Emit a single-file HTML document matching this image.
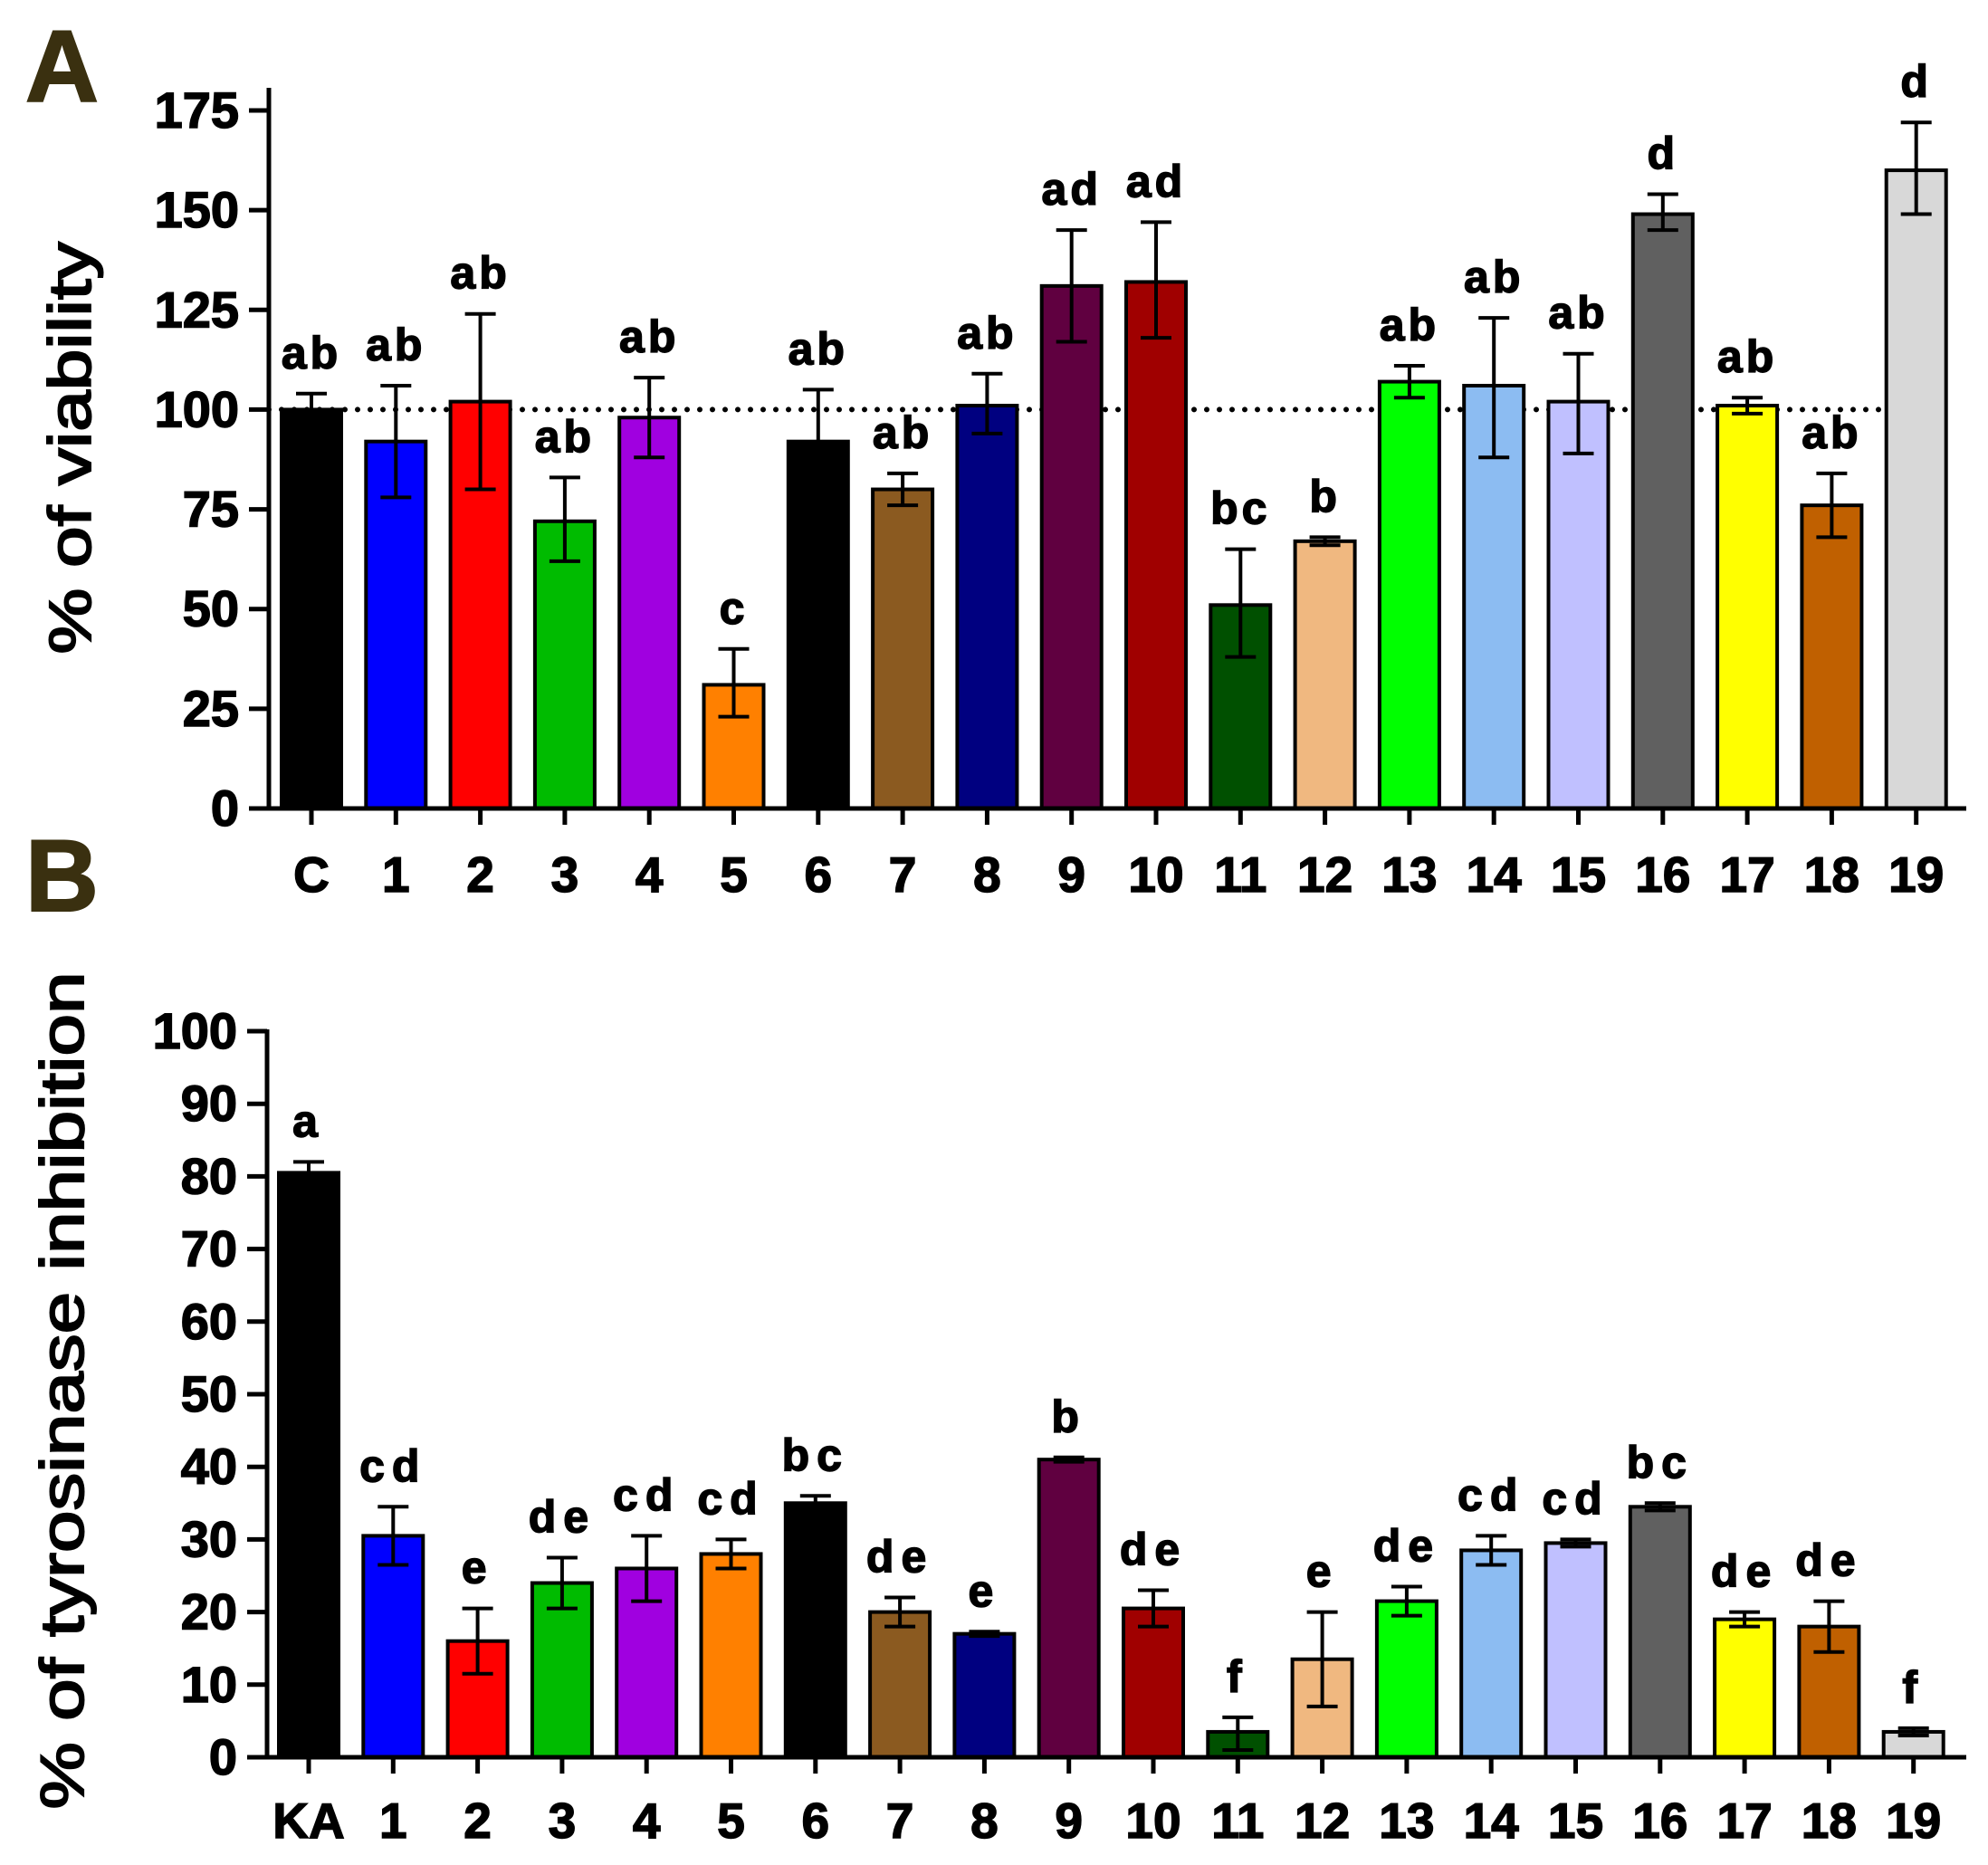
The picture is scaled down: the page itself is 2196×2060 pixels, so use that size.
<!DOCTYPE html>
<html><head><meta charset="utf-8">
<style>
html,body{margin:0;padding:0;background:#fff;}
svg{display:block;}
text{font-family:"Liberation Sans",Arial,sans-serif;}
</style></head>
<body>
<svg id="chart" width="2196" height="2060" viewBox="0 0 2196 2060" xmlns="http://www.w3.org/2000/svg">
<text x="28" y="112" font-size="112" font-weight="bold" fill="#3a3010" stroke="#3a3010" stroke-width="2">A</text>
<text x="28" y="1006" font-size="112" font-weight="bold" fill="#3a3010" stroke="#3a3010" stroke-width="2">B</text>
<text transform="translate(100,495) rotate(-90)" text-anchor="middle" font-size="66" stroke="#000" stroke-width="2" textLength="455" lengthAdjust="spacingAndGlyphs">% of viability</text>
<text transform="translate(92,1536) rotate(-90)" text-anchor="middle" font-size="68" stroke="#000" stroke-width="2" textLength="925" lengthAdjust="spacingAndGlyphs">% of tyrosinase inhibition</text>
<g id="pa"></g>
<g id="pb"></g>
</svg>
<script>
const colors = ["#000000","#0000ff","#ff0000","#00bb00","#a000e0","#ff8000","#000000","#8b5a20","#000080","#600040","#a00000","#005000","#f0b880","#00ff00","#8cbcf2","#c0c0ff","#606060","#ffff00","#c06000","#d8d8d8"];
const catsA = ["C","1","2","3","4","5","6","7","8","9","10","11","12","13","14","15","16","17","18","19"];
const valsA = [100,92,102,72,98,31,92,80,101,131,132,51,67,107,106,102,149,101,76,160];
const errLoA = [98,78,80,62,88,23,79,76,94,117,118,38,66,103,88,89,145,99,68,149];
const errHiA = [104,106,124,83,108,40,105,84,109,145,147,65,68,111,123,114,154,103,84,172];
const lettersA = ["ab","ab","ab","ab","ab","c","ab","ab","ab","ad","ad","bc","b","ab","ab","ab","d","ab","ab","d"];
const ticksA = [0,25,50,75,100,125,150,175];

const catsB = ["KA","1","2","3","4","5","6","7","8","9","10","11","12","13","14","15","16","17","18","19"];
const valsB = [80.5,30.5,16,24,26,28,35,20,17,41,20.5,3.5,13.5,21.5,28.5,29.5,34.5,19,18,3.5];
const errLoB = [79,26.5,11.5,20.5,21.5,26,34,18,16.7,40.7,18,1,7,19.5,26.5,29,34,18,14.5,3];
const errHiB = [82,34.5,20.5,27.5,30.5,30,36,22,17.3,41.3,23,5.5,20,23.5,30.5,30,35,20,21.5,4];
const lettersB = ["a","cd","e","de","cd","cd","bc","de","e","b","de","f","e","de","cd","cd","bc","de","de","f"];
const ticksB = [0,10,20,30,40,50,60,70,80,90,100];

const NS="http://www.w3.org/2000/svg";
function mk(parent,tag,attrs){const e=document.createElementNS(NS,tag);for(const k in attrs)e.setAttribute(k,attrs[k]);parent.appendChild(e);return e;}

function draw(g,cfg){
  const y=v=>cfg.y0-(v-cfg.vmin)/(cfg.vmax-cfg.vmin)*(cfg.y0-cfg.y1);
  const x=i=>cfg.x0+i*cfg.step;
  const bw=66;
  if(cfg.dotted){
    const dl=mk(g,'line',{x1:cfg.axisX,x2:2082,y1:y(100),y2:y(100),stroke:'#000','stroke-width':6,'stroke-dasharray':'0 14','stroke-linecap':'round'});
    
    
  }
  cfg.vals.forEach((v,i)=>{
    const r=mk(g,'rect',{x:x(i)-bw/2,y:y(v),width:bw,height:y(0)-y(v),fill:colors[i],stroke:'#000','stroke-width':4});
    
    
    const eb=mk(g,'path',{d:`M${x(i)},${y(cfg.lo[i])}V${y(cfg.hi[i])}M${x(i)-17},${y(cfg.hi[i])}h34M${x(i)-17},${y(cfg.lo[i])}h34`,stroke:'#000','stroke-width':4,fill:'none'});
    
    
    const t=mk(g,'text',{x:x(i),y:y(cfg.hi[i])-28,'text-anchor':'middle','font-size':50,'font-weight':'bold',stroke:'#000','stroke-width':1.5,'letter-spacing':cfg.ls});
    t.textContent=cfg.letters[i];
    
    
    const tk=mk(g,'line',{x1:x(i),x2:x(i),y1:y(0),y2:y(0)+18,stroke:'#000','stroke-width':5});
    
    
    const xl=mk(g,'text',{x:x(i),y:cfg.xlabY,'text-anchor':'middle','font-size':55,'font-weight':'bold',stroke:'#000','stroke-width':1.5});
    xl.textContent=cfg.cats[i];
    
    
  });
  cfg.ticks.forEach(v=>{
    const tk=mk(g,'line',{x1:cfg.axisX-22,x2:cfg.axisX,y1:y(v),y2:y(v),stroke:'#000','stroke-width':5});
    
    
    const tl=mk(g,'text',{x:cfg.axisX-33,y:y(v)+19,'text-anchor':'end','font-size':56,'font-weight':'bold',stroke:'#000','stroke-width':1.5});
    tl.textContent=v;
    
    
  });
  const ya=mk(g,'line',{x1:cfg.axisX,x2:cfg.axisX,y1:cfg.axisTop,y2:y(0)+2.5,stroke:'#000','stroke-width':5});
  
  
  const xa=mk(g,'line',{x1:cfg.axisX-22,x2:2172,y1:y(0),y2:y(0),stroke:'#000','stroke-width':5});
  
  
}
draw(document.getElementById('pa'),{cats:catsA,vals:valsA,lo:errLoA,hi:errHiA,letters:lettersA,ticks:ticksA,vmin:0,vmax:175,y0:893,y1:122,x0:344,step:93.3,axisX:297,axisTop:97,xlabY:985,dotted:true,ls:4});
draw(document.getElementById('pb'),{cats:catsB,vals:valsB,lo:errLoB,hi:errHiB,letters:lettersB,ticks:ticksB,vmin:0,vmax:100,y0:1941,y1:1139,x0:341,step:93.3,axisX:295,axisTop:1137,xlabY:2030,dotted:false,ls:8});
</script>
</body></html>
